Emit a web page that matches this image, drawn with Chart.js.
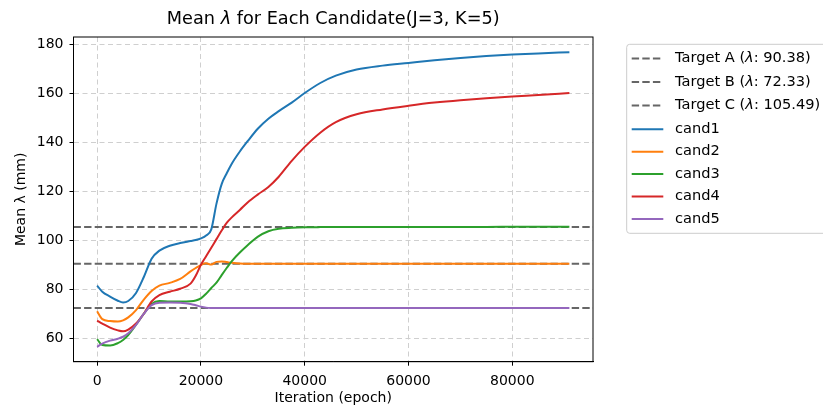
<!DOCTYPE html>
<html>
<head>
<meta charset="utf-8">
<script src="https://cdn.jsdelivr.net/npm/chart.js@4.4.0/dist/chart.umd.min.js"></script>
<style>
  html, body { margin: 0; padding: 0; background: #fff; }
  #wrap { width: 823px; height: 408px; position: relative; }
</style>
</head>
<body>
<div id="wrap"><canvas id="lambdaChart"></canvas></div>
<script>
// --- data ---
const epochs = [0, 1000, 2500, 4000, 5000, 6000, 7500, 9000, 10500, 12000,
    14000, 16000, 18000, 19000, 20000, 21000, 22000, 23000, 24000, 25000,
    26000, 27500, 29000, 31000, 33000, 35000, 37500, 40000, 43000, 46000,
    50000, 55000, 60000, 65000, 70000, 75000, 80000, 85000, 91000];

const cand1 = [81.5, 79, 77, 75.3, 74.6, 75.2, 78.5, 85, 92.5, 95.8,
    97.8, 98.9, 99.7, 100.1, 100.8, 102, 104.5, 115, 123, 127.5,
    131.5, 136.3, 140.5, 145.7, 149.7, 152.8, 156.3, 160.2, 164.3, 167.3,
    169.8, 171.4, 172.5, 173.6, 174.5, 175.3, 175.9, 176.4, 176.9];
const cand2 = [71, 67.8, 67, 66.8, 67.3, 68.5, 71.5, 75.8, 79.3, 81.5,
    82.6, 84.2, 87.3, 88.7, 89.9, 90.6, 90.1, 91.2, 91.4, 91.1,
    90.8, 90.5, 90.4, 90.4, 90.38, 90.38, 90.38, 90.38, 90.38, 90.38,
    90.38, 90.38, 90.38, 90.38, 90.38, 90.38, 90.38, 90.38, 90.38];
const cand3 = [59.6, 57.2, 57, 58, 59.3, 61.3, 65.5, 70, 74, 75.2,
    75, 75, 75.1, 75.4, 76.3, 78.2, 80.5, 82.7, 85.8, 88.8,
    91.6, 95, 98, 101.5, 103.7, 104.7, 105.1, 105.3, 105.4, 105.45,
    105.5, 105.5, 105.5, 105.5, 105.5, 105.5, 105.52, 105.53, 105.55];
const cand4 = [67.2, 66, 64.3, 63.2, 62.8, 63.5, 66, 70, 75, 77.6,
    79, 80.2, 82.3, 85.5, 90, 93.5, 97, 100.5, 104, 107.2,
    109.5, 112.4, 115.5, 118.8, 121.8, 126, 132.5, 138.2, 144, 148.3,
    151.5, 153.5, 155, 156.3, 157.3, 158.1, 158.8, 159.4, 160.2];
const cand5 = [56.5, 57.8, 59, 59.8, 60.6, 62, 65.4, 70, 73.5, 74.5,
    74.6, 74.5, 74, 73.5, 72.9, 72.5, 72.35, 72.3, 72.3, 72.3,
    72.3, 72.3, 72.3, 72.3, 72.3, 72.3, 72.3, 72.3, 72.3, 72.3,
    72.3, 72.3, 72.3, 72.3, 72.3, 72.3, 72.3, 72.3, 72.3];

const candNames = ['cand1', 'cand2', 'cand3', 'cand4', 'cand5'];
const targetNames = ['A', 'B', 'C'];
const targetValues = [90.38, 72.33, 105.49];

const xTicks = [0, 20000, 40000, 60000, 80000];
const yTicks = [60, 80, 100, 120, 140, 160, 180];

// axis limits (matplotlib style 5% margins)
const X_MIN = -4550, X_MAX = 95550;
const Y_MIN = 50.4, Y_MAX = 183.1;

const FONT = "'DejaVu Sans', sans-serif";
const candColors = ['#1f77b4', '#ff7f0e', '#2ca02c', '#d62728', '#9467bd'];

const datasets = [];
targetNames.forEach((name, i) => {
    datasets.push({
        label: `Target ${name} (λ: ${targetValues[i]})`,
        data: [{ x: X_MIN, y: targetValues[i] }, { x: X_MAX, y: targetValues[i] }],
        borderColor: '#666666',
        borderWidth: 2,
        borderDash: [7.4, 3.2],
        pointRadius: 0,
        order: 20
    });
});
[cand1, cand2, cand3, cand4, cand5].forEach((vals, i) => {
    datasets.push({
        label: candNames[i],
        data: epochs.map((e, j) => ({ x: e, y: vals[j] })),
        borderColor: candColors[i],
        borderWidth: 2,
        pointRadius: 0,
        cubicInterpolationMode: 'monotone',
        order: 10 - i
    });
});

// text with an italic lambda, like matplotlib mathtext
function richText(ctx, str, x, y, size, align) {
    const parts = str.split('λ');
    const normal = `${size}px ${FONT}`;
    const italic = `oblique ${size}px ${FONT}`;
    let total = 0;
    parts.forEach((p, i) => {
        ctx.font = normal; total += ctx.measureText(p).width;
        if (i < parts.length - 1) { ctx.font = italic; total += ctx.measureText('λ').width; }
    });
    let cx = align === 'center' ? x - total / 2 : x;
    ctx.textAlign = 'left';
    ctx.textBaseline = 'middle';
    parts.forEach((p, i) => {
        ctx.font = normal; ctx.fillText(p, cx, y); cx += ctx.measureText(p).width;
        if (i < parts.length - 1) {
            ctx.font = italic; ctx.fillText('λ', cx, y); cx += ctx.measureText('λ').width;
        }
    });
}

const decor = {
    id: 'decor',
    afterDraw(chart) {
        const { ctx, chartArea: a } = chart;
        ctx.save();
        // top and right spines
        ctx.strokeStyle = '#000';
        ctx.lineWidth = 1;
        ctx.setLineDash([]);
        ctx.strokeRect(a.left, a.top, a.right - a.left, a.bottom - a.top);
        // title
        ctx.fillStyle = '#000';
        richText(ctx, 'Mean λ for Each Candidate(J=3, K=5)', (a.left + a.right) / 2, 19, 17.7, 'center');
        // legend
        const bx = 626.7, by = 44.3, bw = 210, bh = 189;
        ctx.beginPath();
        ctx.roundRect(bx, by, bw, bh, 3);
        ctx.fillStyle = 'rgba(255,255,255,0.8)';
        ctx.fill();
        ctx.strokeStyle = '#cccccc';
        ctx.lineWidth = 1;
        ctx.stroke();
        const rows = [58.5, 82, 105.5, 129.3, 151.7, 174, 196.5, 219];
        chart.data.datasets.forEach((ds, i) => {
            const y = rows[i];
            ctx.beginPath();
            ctx.setLineDash(ds.borderDash || []);
            ctx.strokeStyle = ds.borderColor;
            ctx.lineWidth = ds.borderWidth;
            ctx.moveTo(631.7, y);
            ctx.lineTo(663.3, y);
            ctx.stroke();
            ctx.setLineDash([]);
            ctx.fillStyle = '#000';
            richText(ctx, ds.label, 675, y, 14.6, 'left');
        });
        ctx.restore();
    }
};

const gridStyle = {
    color: '#cfcfcf', lineWidth: 1,
    tickColor: '#000', tickLength: 4, tickBorderDash: [], tickWidth: 1
};
// in Chart.js v4 the grid line dash lives on border.dash
const borderStyle = { display: true, color: '#000', width: 1, dash: [5, 3.5] };

const ctx = document.getElementById('lambdaChart').getContext('2d');
new Chart(ctx, {
    type: 'line',
    data: { datasets },
    options: {
        responsive: true,
        maintainAspectRatio: false,
        animation: false,
        layout: { padding: { top: 37, right: 230, left: 0, bottom: 0 } },
        plugins: { legend: { display: false }, tooltip: { enabled: false } },
        scales: {
            x: {
                type: 'linear',
                min: X_MIN, max: X_MAX,
                afterFit: s => { s.height = 46.3; },
                afterBuildTicks: s => { s.ticks = xTicks.map(v => ({ value: v })); },
                ticks: {
                    padding: 7, color: '#000', font: { family: FONT, size: 14 },
                    maxRotation: 0, autoSkip: false, callback: v => String(v)
                },
                grid: gridStyle,
                border: borderStyle,
                title: {
                    display: true, text: 'Iteration (epoch)', color: '#000',
                    font: { family: FONT, size: 14 }, padding: { top: 0, bottom: 1 }
                }
            },
            y: {
                type: 'linear',
                min: Y_MIN, max: Y_MAX,
                afterFit: s => { s.width = 73.5; },
                afterBuildTicks: s => { s.ticks = yTicks.map(v => ({ value: v })); },
                ticks: {
                    padding: 6, color: '#000', font: { family: FONT, size: 14 },
                    autoSkip: false
                },
                grid: gridStyle,
                border: borderStyle,
                title: {
                    display: true, text: 'Mean λ (mm)', color: '#000',
                    font: { family: FONT, size: 14 }, padding: { top: 12.6, bottom: 0 }
                }
            }
        }
    },
    plugins: [decor]
});
</script>
</body>
</html>
